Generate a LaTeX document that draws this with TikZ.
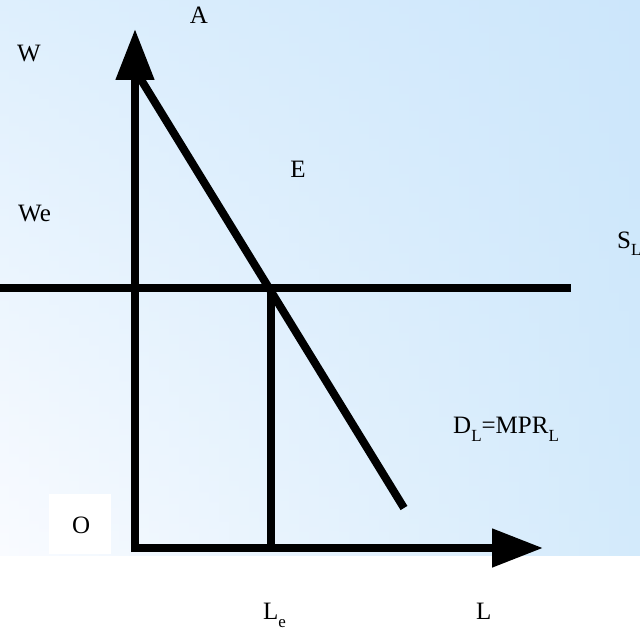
\documentclass[tikz,border=0pt]{standalone}
\usepackage{fontspec}
\setmainfont{Liberation Serif}
\newfontfamily\tmsfont{Liberation Serif}
\usetikzlibrary{arrows.meta}
\definecolor{bgTL}{RGB}{222,239,253}
\definecolor{bgTR}{RGB}{204,230,251}
\definecolor{bgBL}{RGB}{249,251,255}
\definecolor{bgBR}{RGB}{211,234,251}
\begin{document}
\begin{tikzpicture}[x=1pt,y=-1pt,
  lbl/.style={inner sep=0pt,font=\tmsfont\fontsize{25}{30}\selectfont},
  axis/.style={line width=8pt,-{Triangle[length=51pt,width=37pt]}},
  curve/.style={line width=8pt}]
\useasboundingbox (0,0) rectangle (640,631);
\fill[white] (0,0) rectangle (640,631);
\foreach \i in {0,...,63}{
  \pgfmathtruncatemacro{\p}{round(100*\i/63)}
  \shade[top color=bgTR!\p!bgTL, bottom color=bgBR!\p!bgBL, draw=none]
    (10*\i-0.3,0) rectangle (10*\i+10.3,555);
}
\fill[white] (49,494) rectangle (111,554);
% coordinates
\coordinate (ytip) at (135,29);
\coordinate (xtip) at (543,548);
\coordinate (wl) at (0,288);
\coordinate (wr) at (571,288);
\coordinate (E) at (271,288);
\coordinate (Le) at (271,548);
\coordinate (dtop) at (140,78);
\coordinate (dbot) at (404,508);
\coordinate (ybot) at (135,552);
\coordinate (xleft) at (131,548);
% lines
\draw[curve] (wl) -- (wr);
\draw[curve] (E) -- (Le);
\draw[curve] (dtop) -- (dbot);
\draw[axis] (ybot) -- (ytip);
\draw[axis] (xleft) -- (xtip);
% labels
\newcommand{\subtxt}[1]{\raisebox{-8pt}{\fontsize{17}{17}\selectfont #1}}
\node[lbl,anchor=base] (lA) at (199,24) {A};
\node[lbl,anchor=base west] (lW) at (17,62) {W};
\node[lbl,anchor=base] (lE) at (298,178) {E};
\node[lbl,anchor=base west] (lWe) at (18,222) {We};
\node[lbl,anchor=base west] (lS) at (617,248) {S\raisebox{-7pt}{\fontsize{17}{17}\selectfont L}};
\node[lbl,anchor=base west] (lD) at (453,433) {D\subtxt{L}=MPR\subtxt{L}};
\node[lbl,anchor=base west] (lO) at (72,533) {O};
\node[lbl,anchor=base west] (lLe) at (263,619) {L\subtxt{e}};
\node[lbl,anchor=base west] (lL) at (476,619) {L};
\end{tikzpicture}
\end{document}
